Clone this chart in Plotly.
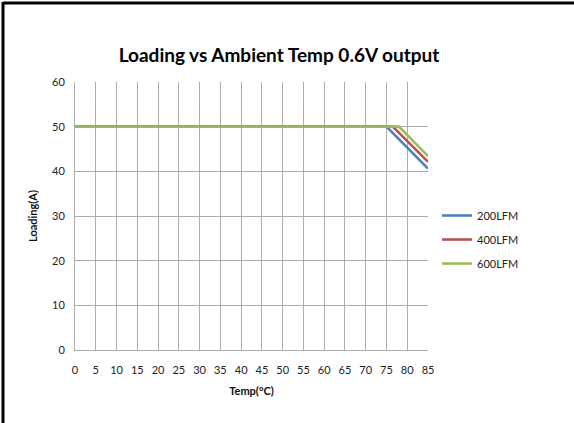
import plotly.graph_objects as go

# Derating curves: load current vs ambient temperature for three airflows
temp_200 = [0, 75, 85]
load_200 = [50, 50, 40.6]
temp_400 = [0, 76.5, 85]
load_400 = [50, 50, 42.1]
temp_600 = [0, 78, 85]
load_600 = [50, 50, 43.4]

series = [
    ("200LFM", temp_200, load_200, "#4F81BD"),
    ("400LFM", temp_400, load_400, "#C0504D"),
    ("600LFM", temp_600, load_600, "#9BBB59"),
]

x_ticks = list(range(0, 90, 5))
y_ticks = list(range(0, 70, 10))

W, H = 574, 423
L, R, T, B = 75, 146, 82, 73
pw, ph = W - L - R, H - T - B

def px_x(p):
    return (p - L) / pw

def px_y(p):
    return (H - B - p) / ph

font_family = "Lato, 'Open Sans', sans-serif"

fig = go.Figure()
for name, xs, ys, col in series:
    fig.add_trace(go.Scatter(x=xs, y=ys, mode="lines", name=name, legendgroup=name,
                             line=dict(color=col, width=2.6)))

grid = "#ADADAD"
fig.update_xaxes(range=[0, 85], tickvals=x_ticks, ticktext=[str(v) for v in x_ticks],
                 showgrid=True, gridcolor=grid, gridwidth=1,
                 showline=True, linecolor=grid, linewidth=1, zeroline=False,
                 ticks="", ticklabelstandoff=10,
                 tickfont=dict(size=11, color="#222", family=font_family),
                 title=dict(text="Temp(°C)", font=dict(size=11, color="#111", family=font_family,
                                                       weight="bold"), standoff=12),
                 fixedrange=True)
fig.update_yaxes(range=[0, 60], tickvals=y_ticks, ticktext=[str(v) for v in y_ticks],
                 showgrid=True, gridcolor=grid, gridwidth=1,
                 showline=True, linecolor=grid, linewidth=1, zeroline=False,
                 ticks="", ticklabelstandoff=7,
                 tickfont=dict(size=11, color="#222", family=font_family),
                 title=dict(text="Loading(A)", font=dict(size=11, color="#111", family=font_family,
                                                         weight="bold"), standoff=12),
                 fixedrange=True)

# frame edges along the top and left of the figure
fig.add_shape(type="line", xref="paper", yref="paper",
              x0=px_x(3), x1=px_x(W + 5), y0=px_y(3), y1=px_y(3),
              line=dict(color="#000", width=3))
fig.add_shape(type="line", xref="paper", yref="paper",
              x0=px_x(3), x1=px_x(3), y0=px_y(2), y1=px_y(H + 5),
              line=dict(color="#000", width=3))

fig.update_layout(
    width=W, height=H,
    margin=dict(l=L, r=R, t=T, b=B),
    paper_bgcolor="white", plot_bgcolor="white",
    title=dict(text="Loading vs Ambient Temp 0.6V output", x=px_x(279), xanchor="center",
               xref="paper", y=1 - 55 / H, yanchor="middle",
               font=dict(size=19, color="#000", family=font_family, weight="bold")),
    legend=dict(x=px_x(437), xanchor="left", y=px_y(201), yanchor="top",
                font=dict(size=11, color="#222", family=font_family),
                tracegroupgap=5, itemwidth=30, bgcolor="rgba(0,0,0,0)"),
    showlegend=True,
)

fig.write_html("out.html")
